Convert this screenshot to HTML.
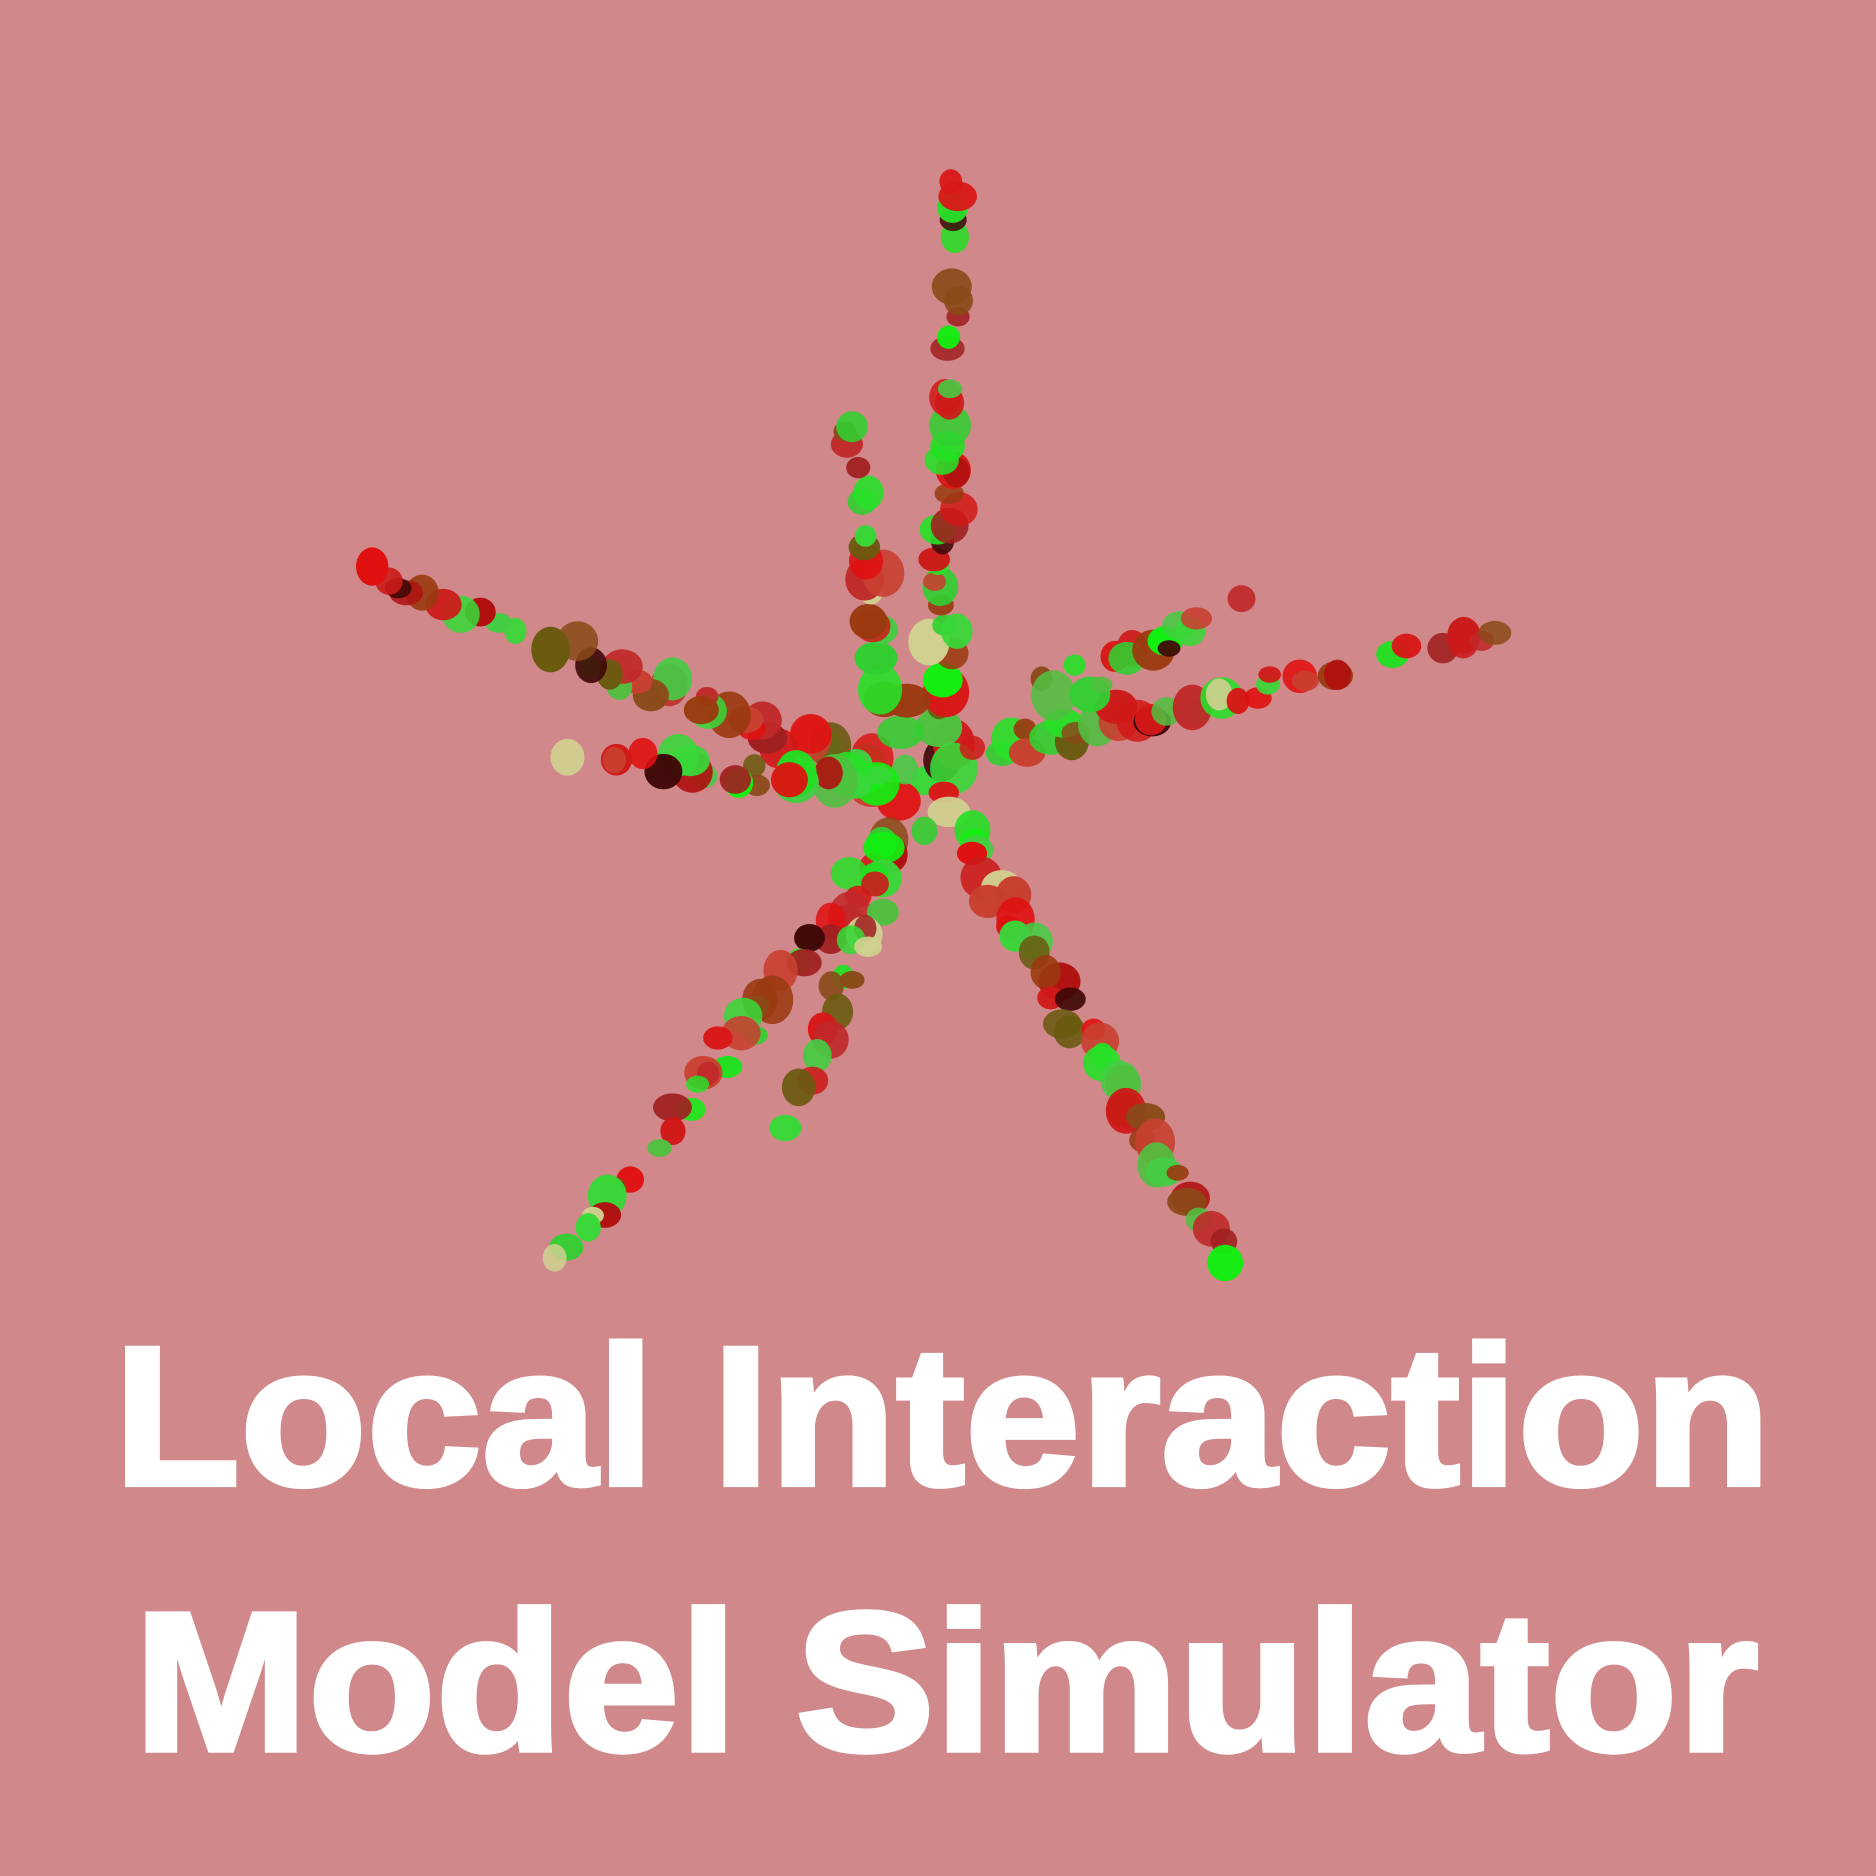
<!DOCTYPE html>
<html><head><meta charset="utf-8">
<style>
html,body{margin:0;padding:0;background:#D0888A;}
svg{display:block;}
</style></head>
<body>
<svg id="s" width="1876" height="1876" viewBox="0 0 1568 1568" xmlns="http://www.w3.org/2000/svg">
<rect width="1568" height="1568" fill="#D0888A"/>
<g id="blobs"></g>
<text x="95" y="1241" font-family="Liberation Sans, sans-serif" font-weight="900" font-size="166" fill="#fff" textLength="1385" lengthAdjust="spacingAndGlyphs" stroke="#fff" stroke-width="4">Local Interaction</text>
<text x="112" y="1463" font-family="Liberation Sans, sans-serif" font-weight="900" font-size="166" fill="#fff" textLength="1358" lengthAdjust="spacingAndGlyphs" stroke="#fff" stroke-width="4">Model Simulator</text>
</svg>
<script>
(function(){
var seed=4242;function r(){seed=(seed*16807)%2147483647;return (seed-1)/2147483646;}
var g=document.getElementById('blobs');
var cols=['#d01818','#e01010','#c02828','#b01010','#cc1a1a','#22e022','#30d030','#10f010','#50c040','#44cc44','#28e028','#8a4a18','#9a3a10','#6a5a10','#c84030','#a02020','#400808','#d0d090','#d81818','#38d838'];
var arms=[
[[785,640],[800,155]],
[[760,660],[315,478]],
[[740,660],[475,628]],
[[810,630],[1250,530]],
[[790,670],[1040,1080]],
[[760,690],[465,1055]],
[[750,720],[655,945]],
[[750,600],[710,355]],
[[880,580],[1035,505]]
];
var ns='http://www.w3.org/2000/svg';
arms.forEach(function(a){
 var x0=a[0][0],y0=a[0][1],x1=a[1][0],y1=a[1][1];
 var len=Math.hypot(x1-x0,y1-y0);var n=Math.round(len/11);
 for(var i=0;i<=n;i++){
  var t=i/n;
  var x=x0+(x1-x0)*t+(r()-0.5)*26*(1-t*0.5);
  var y=y0+(y1-y0)*t+(r()-0.5)*26*(1-t*0.5);
  if(t>0.65 && r()<0.3) continue;
  var e=document.createElementNS(ns,'ellipse');
  e.setAttribute('cx',x);e.setAttribute('cy',y);
  var rr=9+r()*11*(1-t*0.35);
  e.setAttribute('rx',rr);e.setAttribute('ry',rr*(0.7+r()*0.5));
  e.setAttribute('fill',cols[Math.floor(r()*cols.length)]);
  e.setAttribute('opacity',0.85+r()*0.15);
  g.appendChild(e);
 }
});
})();
</script>
</body></html>
